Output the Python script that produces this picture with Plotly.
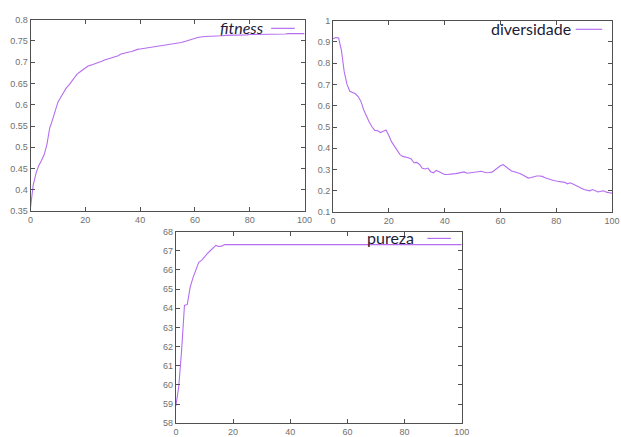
import plotly.graph_objects as go

W, H = 621, 437

generations = list(range(0, 101))

fitness = [0.358, 0.412, 0.439, 0.457, 0.469, 0.483, 0.507, 0.545, 0.564, 0.583,
           0.606, 0.617, 0.629, 0.639, 0.646, 0.655, 0.665, 0.672, 0.677, 0.682,
           0.687, 0.691, 0.693, 0.695, 0.697, 0.700, 0.702, 0.705, 0.707, 0.709,
           0.711, 0.712, 0.715, 0.719, 0.721, 0.722, 0.724, 0.725, 0.728, 0.730,
           0.731, 0.732, 0.733, 0.734, 0.735, 0.736, 0.737, 0.738, 0.738, 0.739,
           0.740, 0.741, 0.742, 0.744, 0.744, 0.746, 0.748, 0.750, 0.752, 0.754,
           0.757, 0.758, 0.759, 0.760, 0.760, 0.761, 0.761, 0.761, 0.762, 0.762,
           0.762, 0.763, 0.763, 0.763, 0.764, 0.764, 0.764, 0.764, 0.764, 0.764,
           0.765, 0.765, 0.765, 0.765, 0.765, 0.765, 0.765, 0.766, 0.766, 0.766,
           0.766, 0.766, 0.766, 0.766, 0.767, 0.767, 0.767, 0.767, 0.767, 0.767,
           0.767]

diversidade = [0.915, 0.920, 0.918, 0.860, 0.760, 0.700, 0.668, 0.660, 0.656, 0.643,
               0.620, 0.580, 0.548, 0.522, 0.500, 0.484, 0.482, 0.474, 0.480, 0.486,
               0.460, 0.430, 0.410, 0.392, 0.370, 0.362, 0.360, 0.356, 0.350, 0.332,
               0.334, 0.324, 0.306, 0.303, 0.307, 0.290, 0.285, 0.296, 0.290, 0.282,
               0.277, 0.277, 0.277, 0.280, 0.281, 0.283, 0.285, 0.289, 0.283, 0.284,
               0.286, 0.287, 0.290, 0.292, 0.288, 0.285, 0.286, 0.288, 0.298, 0.310,
               0.318, 0.323, 0.315, 0.303, 0.293, 0.289, 0.288, 0.282, 0.275, 0.268,
               0.260, 0.263, 0.267, 0.270, 0.270, 0.268, 0.262, 0.257, 0.254, 0.249,
               0.246, 0.245, 0.243, 0.240, 0.233, 0.238, 0.232, 0.224, 0.218, 0.212,
               0.206, 0.203, 0.200, 0.206, 0.200, 0.195, 0.198, 0.200, 0.194, 0.191,
               0.189]

pureza = [58.9, 59.9, 61.8, 64.15, 64.2, 65.1, 65.6, 66.05, 66.4, 66.5,
          66.7, 66.85, 67.0, 67.15, 67.28, 67.22, 67.24, 67.32] + [67.32] * 83

x_ticks = [0, 20, 40, 60, 80, 100]
fit_ticks = [0.35, 0.4, 0.45, 0.5, 0.55, 0.6, 0.65, 0.7, 0.75, 0.8]
fit_labels = ["0.35", "0.4", "0.45", "0.5", "0.55", "0.6", "0.65", "0.7", "0.75", "0.8"]
div_ticks = [0.1, 0.2, 0.3, 0.4, 0.5, 0.6, 0.7, 0.8, 0.9, 1.0]
div_labels = ["0.1", "0.2", "0.3", "0.4", "0.5", "0.6", "0.7", "0.8", "0.9", "1"]
pur_ticks = list(range(58, 69))

LINE = "#b56ef0"
FRAME = "#505050"
TICKTXT = "#707070"
LEGTXT = "#1c1c38"


def px_x(p):
    return p / W


def px_y(p):
    return (H - p) / H


fig = go.Figure()
fig.add_trace(go.Scatter(x=generations, y=fitness, mode="lines",
                         line=dict(color=LINE, width=1.1), xaxis="x", yaxis="y"))
fig.add_trace(go.Scatter(x=generations, y=diversidade, mode="lines",
                         line=dict(color=LINE, width=1.1), xaxis="x2", yaxis="y2"))
fig.add_trace(go.Scatter(x=generations, y=pureza, mode="lines",
                         line=dict(color=LINE, width=1.1), xaxis="x3", yaxis="y3"))

common = dict(showline=True, linecolor=FRAME, linewidth=1, mirror="ticks",
              ticks="inside", ticklen=4, tickcolor=FRAME, showgrid=False,
              zeroline=False, tickfont=dict(family="Liberation Sans", size=9, color=TICKTXT))

fig.update_layout(
    width=W, height=H,
    margin=dict(l=0, r=0, t=0, b=0),
    paper_bgcolor="white", plot_bgcolor="white",
    showlegend=False,
    xaxis=dict(domain=[px_x(28), px_x(307)], range=[0, 100], tickvals=x_ticks,
               anchor="y", **common),
    yaxis=dict(domain=[px_y(212), px_y(15)], range=[0.35, 0.8], tickvals=fit_ticks,
               ticktext=fit_labels, anchor="x", **common),
    xaxis2=dict(domain=[px_x(336), px_x(620)], range=[0, 100], tickvals=x_ticks,
                anchor="y2", **common),
    yaxis2=dict(domain=[px_y(213), px_y(16)], range=[0.1, 1.0], tickvals=div_ticks,
                ticktext=div_labels, anchor="x2", **common),
    xaxis3=dict(domain=[px_x(176), px_x(467)], range=[0, 100], tickvals=x_ticks,
                anchor="y3", **common),
    yaxis3=dict(domain=[px_y(430), px_y(233)], range=[58, 68], tickvals=pur_ticks,
                anchor="x3", **common),
)

legend_font = dict(family="Lato", size=16, color=LEGTXT)
entries = [
    ("<i>fitness</i>", 268, 23, 273, 297),
    ("diversidade", 580, 24, 583, 610),
    ("pureza", 420, 239, 432, 456),
]
for text, xr, yc, lx0, lx1 in entries:
    fig.add_annotation(text=text, x=px_x(xr), y=px_y(yc), xref="paper", yref="paper",
                       xanchor="right", yanchor="middle", showarrow=False,
                       font=legend_font)
    fig.add_shape(type="line", xref="paper", yref="paper",
                  x0=px_x(lx0), x1=px_x(lx1), y0=px_y(yc + 1), y1=px_y(yc + 1),
                  line=dict(color=LINE, width=1.2))

fig.write_html("out.html")
